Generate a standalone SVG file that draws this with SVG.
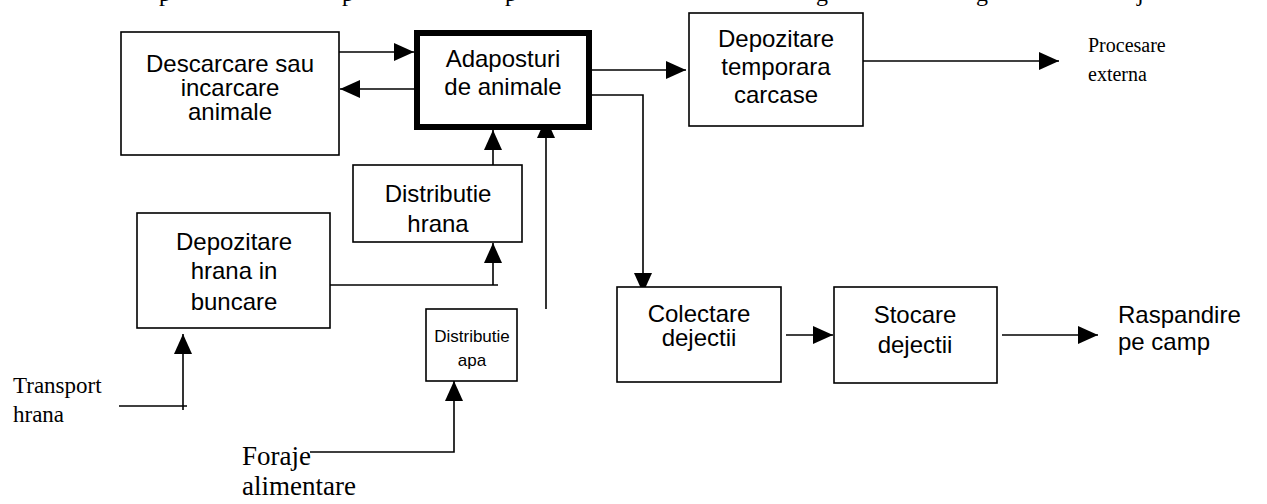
<svg xmlns="http://www.w3.org/2000/svg" width="1267" height="504" viewBox="0 0 1267 504">
<style>
.box{fill:#fff;stroke:#000;stroke-width:1.6}
.thick{fill:#fff;stroke:#000;stroke-width:6}
.t{font-family:"Liberation Sans",Arial,sans-serif;font-size:24px;fill:#000;text-anchor:middle}
.sm{font-size:17px}
.s{font-family:"Liberation Serif","Times New Roman",serif;fill:#000}
.c{fill:none;stroke:#000;stroke-width:1.6}
</style>
<defs>
<marker id="ah" markerUnits="userSpaceOnUse" markerWidth="20" markerHeight="18" refX="20" refY="9" orient="auto">
<path d="M0,0 L20,9 L0,18 z" fill="#000"/>
</marker>
<clipPath id="clipApa"><rect x="426" y="309" width="91" height="60"/></clipPath>
</defs>
<g id="topline" class="s" font-size="24">
<text x="159" y="0.5">p</text>
<text x="342" y="0.5">p</text>
<text x="505" y="0.5">p</text>
<text x="816" y="0.5">g</text>
<text x="976" y="0.5">g</text>
<text x="1137" y="0.5">j</text>
</g>
<g id="connectors">
<path class="c" d="M339,52 L414,52" marker-end="url(#ah)"/>
<path class="c" d="M414,89 L340,89" marker-end="url(#ah)"/>
<path class="c" d="M592,70 L686,70" marker-end="url(#ah)"/>
<path class="c" d="M857,61 L1059,61" marker-end="url(#ah)"/>
<path class="c" d="M592,95 L643,95 L643,293" marker-end="url(#ah)"/>
<path class="c" d="M493,165 L493,130" marker-end="url(#ah)"/>
<path class="c" d="M546,309 L546,118" marker-end="url(#ah)"/>
<path class="c" d="M330,285 L498,285"/>
<path class="c" d="M493,285 L493,243" marker-end="url(#ah)"/>
<path class="c" d="M119,406 L187,406"/>
<path class="c" d="M183,410 L183,334" marker-end="url(#ah)"/>
<path class="c" d="M310,452 L454,452 L454,381" marker-end="url(#ah)"/>
<path class="c" d="M786,335 L833,335" marker-end="url(#ah)"/>
<path class="c" d="M1002,335 L1098,335" marker-end="url(#ah)"/>
</g>
<g id="descarcare">
<rect class="box" x="121" y="32" width="218" height="123"/>
<text class="t" x="230" y="72">Descarcare sau</text>
<text class="t" x="230" y="96">incarcare</text>
<text class="t" x="230" y="120">animale</text>
</g>
<g id="adaposturi">
<rect class="thick" x="417" y="33" width="172" height="94"/>
<text class="t" x="503" y="67">Adaposturi</text>
<text class="t" x="503" y="95">de animale</text>
</g>
<g id="depozitare-carcase">
<rect class="box" x="689" y="13" width="174" height="113"/>
<text class="t" x="776" y="47">Depozitare</text>
<text class="t" x="776" y="75">temporara</text>
<text class="t" x="776" y="103">carcase</text>
</g>
<g id="procesare">
<text class="s" font-size="20" x="1088" y="52">Procesare</text>
<text class="s" font-size="20" x="1088" y="81">externa</text>
</g>
<g id="distributie-hrana">
<rect class="box" x="353" y="165" width="169" height="77"/>
<text class="t" x="438" y="202">Distributie</text>
<text class="t" x="438" y="232">hrana</text>
</g>
<g id="depozitare-hrana">
<rect class="box" x="137" y="213" width="193" height="115"/>
<text class="t" x="234" y="250">Depozitare</text>
<text class="t" x="234" y="279">hrana in</text>
<text class="t" x="234" y="310">buncare</text>
</g>
<g id="distributie-apa">
<rect class="box" x="426" y="309" width="91" height="72"/>
<g clip-path="url(#clipApa)">
<text class="t sm" x="472" y="342">Distributie</text>
<text class="t sm" x="472" y="366">apa</text>
</g>
</g>
<g id="colectare">
<rect class="box" x="617" y="287" width="164" height="95"/>
<text class="t" x="699" y="322">Colectare</text>
<text class="t" x="699" y="346">dejectii</text>
</g>
<g id="stocare">
<rect class="box" x="834" y="287" width="163" height="96"/>
<text class="t" x="915" y="323">Stocare</text>
<text class="t" x="915" y="353">dejectii</text>
</g>
<g id="raspandire">
<text class="t" x="1118" y="323" style="text-anchor:start">Raspandire</text>
<text class="t" x="1118" y="350" style="text-anchor:start">pe camp</text>
</g>
<g id="transport">
<text class="s" font-size="23" x="13" y="393">Transport</text>
<text class="s" font-size="23" x="13" y="422">hrana</text>
</g>
<g id="foraje">
<text class="s" font-size="27" x="242" y="465">Foraje</text>
<text class="s" font-size="27" x="242" y="495">alimentare</text>
</g>
</svg>
